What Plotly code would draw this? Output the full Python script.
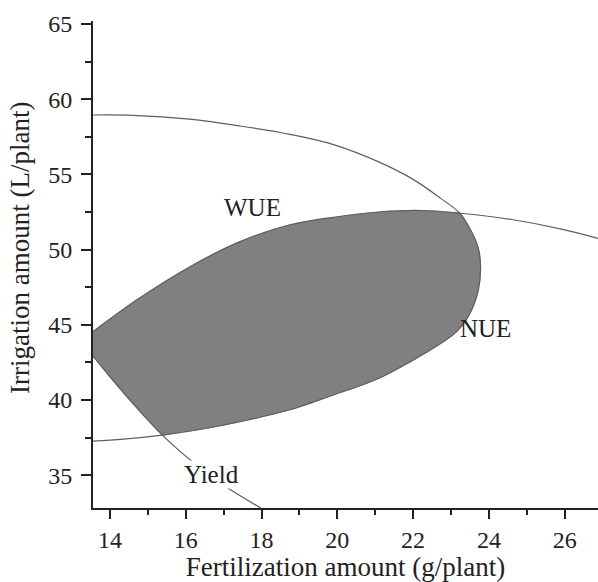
import plotly.graph_objects as go

# ---- data ----
# NUE ellipse, traced from the left axis at the top, clockwise
nue_x = [13.55, 14.6, 16.1, 17.43, 18.75, 19.9, 21.12, 22.0, 22.71, 23.24, 23.54, 23.72, 23.78,
         23.72, 23.5, 23.15, 22.6, 22.0, 21.1, 19.8, 18.75, 17.43, 16.37, 15.38, 14.35, 13.55]
nue_y = [58.95, 58.93, 58.67, 58.22, 57.66, 56.98, 55.8, 54.67, 53.44, 52.4, 51.2, 50.1, 48.9,
         47.3, 45.75, 44.55, 43.55, 42.65, 41.45, 40.25, 39.35, 38.56, 38.04, 37.67, 37.4, 37.27]

# WUE curve
wue_x = [13.55, 14.7, 16.1, 17.4, 18.75, 20.05, 21.1, 22.2, 23.3, 24.6, 25.95, 26.88]
wue_y = [44.55, 46.65, 48.85, 50.5, 51.65, 52.2, 52.5, 52.6, 52.4, 52.0, 51.35, 50.75]

# Yield curve
yield_x = [13.55, 14.35, 15.38, 16.2, 17.05, 17.98]
yield_y = [42.93, 40.5, 37.67, 35.85, 34.25, 32.82]

# Boundary of the shaded feasible region, clockwise
region_x = [13.55, 14.7, 16.1, 17.4, 18.75, 20.05, 21.1, 22.2, 23.0, 23.24,
            23.35, 23.54, 23.72, 23.78, 23.72, 23.5, 23.15, 22.6, 22.0, 21.1, 19.8, 18.75, 17.43,
            16.37, 15.6, 15.38, 15.25, 14.35, 13.55]
region_y = [44.55, 46.65, 48.85, 50.5, 51.65, 52.2, 52.5, 52.6, 52.5, 52.42,
            52.0, 51.2, 50.1, 48.9, 47.3, 45.75, 44.55, 43.55, 42.65, 41.45, 40.25, 39.35, 38.56,
            38.04, 37.75, 37.67, 38.05, 40.5, 42.93]

labels = ["WUE", "NUE", "Yield"]
label_x = [17.77, 23.92, 16.68]
label_y = [52.8, 44.77, 35.06]

x_ticks = [14, 16, 18, 20, 22, 24, 26]
y_ticks = [35, 40, 45, 50, 55, 60, 65]

FONT = "Liberation Serif"
LINE = "#5e5e5e"
TXT = "#222222"

fig = go.Figure()
fig.add_trace(go.Scatter(x=region_x, y=region_y, mode="lines", fill="toself",
                         fillcolor="#808080",
                         line=dict(color="#808080", width=0.5, shape="spline", smoothing=1.0),
                         hoverinfo="skip", showlegend=False))
for xs, ys in [(nue_x, nue_y), (wue_x, wue_y), (yield_x, yield_y)]:
    fig.add_trace(go.Scatter(x=xs, y=ys, mode="lines",
                             line=dict(color=LINE, width=1.2, shape="spline", smoothing=1.0),
                             showlegend=False))

for t, x, y in zip(labels, label_x, label_y):
    fig.add_annotation(x=x, y=y, text=t, showarrow=False,
                       font=dict(family=FONT, size=25, color=TXT),
                       bgcolor="white" if t == "Yield" else None, borderpad=0)

# y-axis title placed as an annotation (it sits a little above the plot centre in the reference)
fig.add_annotation(xref="paper", yref="paper", x=-0.1446, y=0.534,
                   text="Irrigation amount (L/plant)", textangle=-90, showarrow=False,
                   xanchor="center", yanchor="middle",
                   font=dict(family=FONT, size=27, color=TXT))

fig.update_layout(
    width=598, height=582,
    margin=dict(l=93, r=0, t=21, b=74),
    plot_bgcolor="white", paper_bgcolor="white",
    font=dict(family=FONT, color=TXT),
)
fig.update_xaxes(range=[13.55, 26.88], tickvals=x_ticks, showgrid=False, zeroline=False,
                 showline=True, linecolor=TXT, linewidth=2, ticks="outside", ticklen=9,
                 tickwidth=1.5, tickcolor=TXT, tickfont=dict(family=FONT, size=24),
                 minor=dict(dtick=1, tick0=13, ticks="outside", ticklen=5, tickwidth=1.5, tickcolor=TXT),
                 title=dict(text="Fertilization amount (g/plant)", font=dict(family=FONT, size=27), standoff=9))
fig.update_yaxes(range=[32.82, 65.2], tickvals=y_ticks, showgrid=False, zeroline=False,
                 showline=True, linecolor=TXT, linewidth=2, ticks="outside", ticklen=10,
                 tickwidth=1.5, tickcolor=TXT, tickfont=dict(family=FONT, size=24),
                 ticklabelstandoff=4,
                 minor=dict(dtick=2.5, tick0=32.5, ticks="outside", ticklen=6, tickwidth=1.5, tickcolor=TXT))

fig.write_html("out.html")
